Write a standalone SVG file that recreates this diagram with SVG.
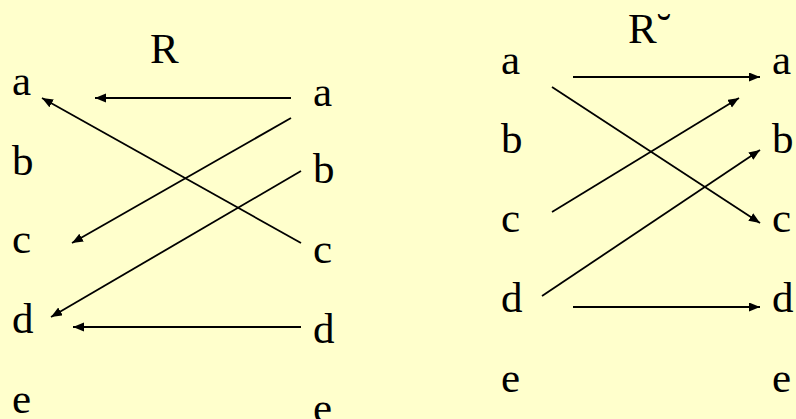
<svg xmlns="http://www.w3.org/2000/svg" width="796" height="419" viewBox="0 0 796 419">
<defs>
<style>
text{font-family:"Liberation Serif","Times New Roman",serif;font-size:43px;fill:#000}
.c line{stroke:#000;stroke-width:1.8;marker-end:url(#ah)}
</style>
<marker id="ah" markerUnits="userSpaceOnUse" markerWidth="12" markerHeight="10" refX="11" refY="4.5" orient="auto" viewBox="0 0 12 10">
<path d="M0,0 L11,4.5 L0,9 z" fill="#000"/>
</marker>
</defs>
<rect width="796" height="419" fill="#FFFFCC"/>
<text id="titleR" x="150" y="63">R</text>
<text id="titleRc" x="628" y="43">R˘</text>
<g id="L1a"><text x="12" y="95">a</text></g>
<g id="L1b"><text x="12" y="175">b</text></g>
<g id="L1c"><text x="12" y="253">c</text></g>
<g id="L1d"><text x="12" y="333">d</text></g>
<g id="L1e"><text x="12" y="413">e</text></g>
<g id="L2a"><text x="313" y="106">a</text></g>
<g id="L2b"><text x="313" y="183">b</text></g>
<g id="L2c"><text x="313" y="263">c</text></g>
<g id="L2d"><text x="313" y="343">d</text></g>
<g id="L2e"><text x="313" y="422">e</text></g>
<g id="R1a"><text x="501" y="74">a</text></g>
<g id="R1b"><text x="501" y="153">b</text></g>
<g id="R1c"><text x="501" y="232">c</text></g>
<g id="R1d"><text x="501" y="312">d</text></g>
<g id="R1e"><text x="501" y="392">e</text></g>
<g id="R2a"><text x="772" y="74">a</text></g>
<g id="R2b"><text x="772" y="153">b</text></g>
<g id="R2c"><text x="772" y="232">c</text></g>
<g id="R2d"><text x="772" y="312">d</text></g>
<g id="R2e"><text x="772" y="392">e</text></g>
<g id="connectors" class="c">
<line x1="291" y1="98" x2="95" y2="98"/>
<line x1="301" y1="243" x2="42" y2="98"/>
<line x1="291" y1="118" x2="72" y2="243"/>
<line x1="301" y1="171" x2="51" y2="317"/>
<line x1="301" y1="327" x2="73" y2="327"/>
<line x1="573" y1="77" x2="760" y2="77"/>
<line x1="552" y1="87" x2="760" y2="223"/>
<line x1="552" y1="212" x2="739" y2="98"/>
<line x1="542" y1="296" x2="760" y2="150"/>
<line x1="573" y1="307" x2="760" y2="307"/>
</g>
</svg>
